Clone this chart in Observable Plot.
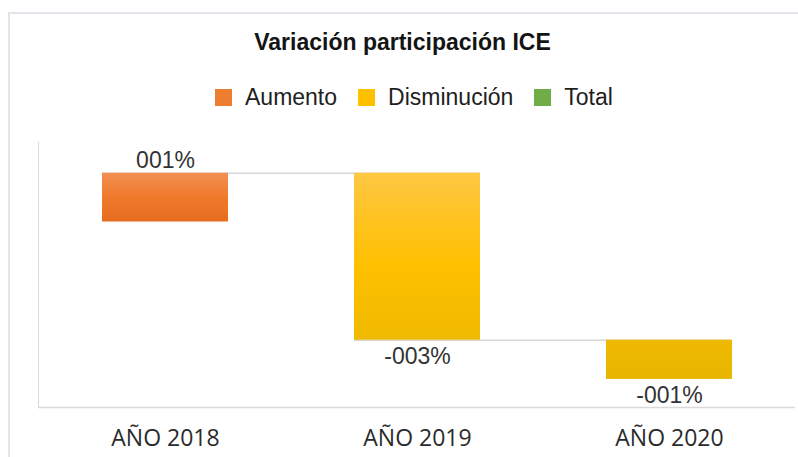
<!DOCTYPE html>
<html>
<head>
<meta charset="utf-8">
<script src="https://cdn.jsdelivr.net/npm/d3@7"></script>
<script src="https://cdn.jsdelivr.net/npm/@observablehq/plot@0.6"></script>
<style>
  html, body { margin: 0; padding: 0; background: #ffffff; }
  #wrap { position: relative; width: 798px; height: 457px; overflow: hidden; background: #fff; }
  #frame { position: absolute; left: 8px; top: 12px; right: -4px; bottom: -4px;
           border-top: 2px solid #e2e5ea; border-left: 2px solid #e2e5ea; }
  #title { position: absolute; left: 0; top: 29px; width: 805px; text-align: center;
           font: bold 23px "Liberation Sans", Arial, sans-serif; color: #141414; line-height: normal; }
  #legend { position: absolute; left: 215px; top: 84px; display: flex; align-items: center;
            font: 23px "Liberation Sans", Arial, sans-serif; color: #1e1e1e; line-height: normal; }
  #legend .item { display: flex; align-items: center; margin-right: 21px; }
  #legend .sw { width: 17px; height: 17px; margin-right: 13px; }
  #chart { position: absolute; left: 0; top: 0; }
</style>
</head>
<body>
<div id="wrap">
  <div id="frame"></div>
  <div id="title"></div>
  <div id="legend"></div>
  <div id="chart"></div>
</div>
<script>
// ---- data ----
const titleText = "Variación participación ICE";
const categories = ["AÑO 2018", "AÑO 2019", "AÑO 2020"];
const changes = [0.0092, -0.0315, -0.0074];
const seriesNames = ["Aumento", "Disminución", "Total"];
const seriesColors = ["#ED7D31", "#FFC000", "#70AD47"];
const yDomain = [-0.035, 0.015];

// ---- gradient styles (per series) ----
const gradientStops = {
  "Aumento": [[0, "#F28F52"], [0.5, "#EF7A2C"], [1, "#E66C1E"]],
  "Disminución": [[0, "#FEC743"], [0.45, "#FFC000"], [0.8, "#EFBA00"], [1, "#E8B500"]],
  "Total": [[0, "#7DBB52"], [1, "#66A03F"]]
};
const gradId = name => "grad-" + seriesNames.indexOf(name);

// ---- derived waterfall table ----
const cum = d3.cumsum(changes);
const data = categories.map((c, i) => ({
  cat: c,
  start: i === 0 ? 0 : cum[i - 1],
  end: cum[i],
  change: changes[i],
  type: changes[i] >= 0 ? seriesNames[0] : seriesNames[1]
}));
const connectors = data.slice(0, -1).map((d, i) => ({from: d.cat, to: data[i + 1].cat, level: d.end}));
const fmt = v => (v < 0 ? "-" : "") + String(Math.round(Math.abs(v) * 100)).padStart(3, "0") + "%";

// ---- title & legend ----
document.getElementById("title").textContent = titleText;
const legend = document.getElementById("legend");
seriesNames.forEach((name, i) => {
  const item = document.createElement("div");
  item.className = "item";
  const sw = document.createElement("div");
  sw.className = "sw";
  sw.style.background = seriesColors[i];
  const lab = document.createElement("span");
  lab.textContent = name;
  item.appendChild(sw);
  item.appendChild(lab);
  legend.appendChild(item);
});

// ---- chart ----
const labelFont = {fontFamily: "'Liberation Sans', Arial, sans-serif", fontSize: 23, fill: "#333333"};
const chart = Plot.plot({
  width: 798,
  height: 457,
  marginTop: 142,
  marginBottom: 50,
  marginLeft: 38,
  marginRight: 3,
  style: {background: "transparent", color: "#d9d9d9", fontFamily: "'Liberation Sans', Arial, sans-serif", overflow: "visible"},
  x: {domain: categories, paddingInner: 0.5, paddingOuter: 0.25, axis: null},
  y: {domain: yDomain, ticks: [], tickSize: 0, line: true, label: null},
  color: {domain: seriesNames, range: seriesNames.map(n => `url(#${gradId(n)})`)},
  marks: [
    Plot.ruleY([yDomain[0]], {stroke: "#d9d9d9", strokeWidth: 1.5}),
    Plot.ruleY(connectors, {x1: "from", x2: "to", y: "level", stroke: "#d6d6d6", strokeWidth: 1.5}),
    Plot.barY(data, {x: "cat", y1: "start", y2: "end", fill: "type"}),
    Plot.text(data.filter(d => d.change >= 0), {x: "cat", y: "end", text: d => fmt(d.change), dy: -13, lineAnchor: "middle", ...labelFont}),
    Plot.text(data.filter(d => d.change < 0), {x: "cat", y: "end", text: d => fmt(d.change), dy: 16, lineAnchor: "middle", ...labelFont}),
    Plot.text(categories, {x: d => d, frameAnchor: "bottom", dy: 31, lineAnchor: "middle", text: d => d,
      fontFamily: "'Open Sans', sans-serif", fontSize: 23, fill: "#2b2b2b"})
  ]
});
document.getElementById("chart").appendChild(chart);

// gradients positioned with the y scale
const ys = chart.scale("y");
const svg = d3.select(chart);
const defs = svg.insert("defs", ":first-child");
seriesNames.forEach(name => {
  const rows = data.filter(d => d.type === name);
  const vals = rows.flatMap(d => [d.start, d.end]);
  const top = vals.length ? d3.max(vals) : yDomain[1];
  const bottom = vals.length ? d3.min(vals) : yDomain[0];
  const g = defs.append("linearGradient")
    .attr("id", gradId(name))
    .attr("gradientUnits", "userSpaceOnUse")
    .attr("x1", 0).attr("x2", 0)
    .attr("y1", ys.apply(top)).attr("y2", ys.apply(bottom));
  gradientStops[name].forEach(([o, c]) => g.append("stop").attr("offset", o).attr("stop-color", c));
});
</script>
</body>
</html>
